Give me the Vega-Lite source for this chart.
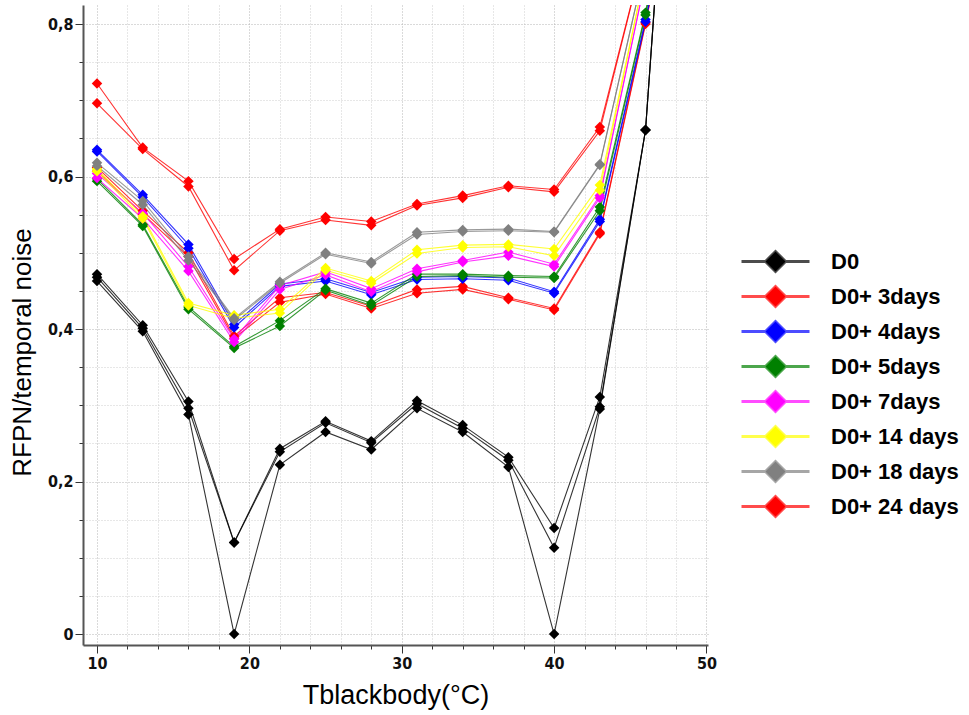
{
  "$schema": "https://vega.github.io/schema/vega-lite/v6.json",
  "autosize": "none",
  "width": 625,
  "height": 640,
  "padding": {"left": 83, "top": 5, "right": 261, "bottom": 70},
  "background": "white",
  "config": {
    "view": {"stroke": null},
    "axis": {
      "labelFont": "Liberation Sans Narrow, DejaVu Sans Condensed, Liberation Sans",
      "labelFontWeight": "bold",
      "labelFontSize": 16,
      "labelColor": "#111",
      "titleFont": "Liberation Sans",
      "titleFontWeight": "normal",
      "titleColor": "#000",
      "domainColor": "#555",
      "domainWidth": 2,
      "tickColor": "#333",
      "gridDash": [1, 2],
      "gridWidth": 1
    }
  },
  "data": {
    "values": [
      {"s":"D0","r":"a","t":10,"v":0.472},{"s":"D0","r":"a","t":13,"v":0.405},{"s":"D0","r":"a","t":16,"v":0.305},{"s":"D0","r":"a","t":19,"v":0.12},{"s":"D0","r":"a","t":22,"v":0.243},{"s":"D0","r":"a","t":25,"v":0.279},{"s":"D0","r":"a","t":28,"v":0.253},{"s":"D0","r":"a","t":31,"v":0.306},{"s":"D0","r":"a","t":34,"v":0.274},{"s":"D0","r":"a","t":37,"v":0.232},{"s":"D0","r":"a","t":40,"v":0.139},{"s":"D0","r":"a","t":43,"v":0.311},{"s":"D0","r":"a","t":46,"v":0.661},{"s":"D0","r":"a","t":49,"v":1.5},
      {"s":"D0","r":"b","t":10,"v":0.468},{"s":"D0","r":"b","t":13,"v":0.401},{"s":"D0","r":"b","t":16,"v":0.296},{"s":"D0","r":"b","t":19,"v":0.12},{"s":"D0","r":"b","t":22,"v":0.239},{"s":"D0","r":"b","t":25,"v":0.277},{"s":"D0","r":"b","t":28,"v":0.251},{"s":"D0","r":"b","t":31,"v":0.302},{"s":"D0","r":"b","t":34,"v":0.270},{"s":"D0","r":"b","t":37,"v":0.228},{"s":"D0","r":"b","t":40,"v":0.113},{"s":"D0","r":"b","t":43,"v":0.298},{"s":"D0","r":"b","t":46,"v":0.661},{"s":"D0","r":"b","t":49,"v":1.5},
      {"s":"D0","r":"c","t":10,"v":0.463},{"s":"D0","r":"c","t":13,"v":0.397},{"s":"D0","r":"c","t":16,"v":0.288},{"s":"D0","r":"c","t":19,"v":0.0},{"s":"D0","r":"c","t":22,"v":0.222},{"s":"D0","r":"c","t":25,"v":0.265},{"s":"D0","r":"c","t":28,"v":0.242},{"s":"D0","r":"c","t":31,"v":0.296},{"s":"D0","r":"c","t":34,"v":0.265},{"s":"D0","r":"c","t":37,"v":0.219},{"s":"D0","r":"c","t":40,"v":0.0},{"s":"D0","r":"c","t":43,"v":0.295},{"s":"D0","r":"c","t":46,"v":0.661},{"s":"D0","r":"c","t":49,"v":1.5},

      {"s":"D0+ 3days","r":"a","t":10,"v":0.612},{"s":"D0+ 3days","r":"a","t":13,"v":0.555},{"s":"D0+ 3days","r":"a","t":16,"v":0.500},{"s":"D0+ 3days","r":"a","t":19,"v":0.391},{"s":"D0+ 3days","r":"a","t":22,"v":0.441},{"s":"D0+ 3days","r":"a","t":25,"v":0.448},{"s":"D0+ 3days","r":"a","t":28,"v":0.430},{"s":"D0+ 3days","r":"a","t":31,"v":0.452},{"s":"D0+ 3days","r":"a","t":34,"v":0.456},{"s":"D0+ 3days","r":"a","t":37,"v":0.441},{"s":"D0+ 3days","r":"a","t":40,"v":0.427},{"s":"D0+ 3days","r":"a","t":43,"v":0.527},{"s":"D0+ 3days","r":"a","t":46,"v":0.802},{"s":"D0+ 3days","r":"a","t":49,"v":1.1},
      {"s":"D0+ 3days","r":"b","t":10,"v":0.607},{"s":"D0+ 3days","r":"b","t":13,"v":0.551},{"s":"D0+ 3days","r":"b","t":16,"v":0.495},{"s":"D0+ 3days","r":"b","t":19,"v":0.388},{"s":"D0+ 3days","r":"b","t":22,"v":0.435},{"s":"D0+ 3days","r":"b","t":25,"v":0.446},{"s":"D0+ 3days","r":"b","t":28,"v":0.427},{"s":"D0+ 3days","r":"b","t":31,"v":0.447},{"s":"D0+ 3days","r":"b","t":34,"v":0.452},{"s":"D0+ 3days","r":"b","t":37,"v":0.439},{"s":"D0+ 3days","r":"b","t":40,"v":0.425},{"s":"D0+ 3days","r":"b","t":43,"v":0.525},{"s":"D0+ 3days","r":"b","t":46,"v":0.800},{"s":"D0+ 3days","r":"b","t":49,"v":1.1},

      {"s":"D0+ 4days","r":"a","t":10,"v":0.635},{"s":"D0+ 4days","r":"a","t":13,"v":0.576},{"s":"D0+ 4days","r":"a","t":16,"v":0.511},{"s":"D0+ 4days","r":"a","t":19,"v":0.406},{"s":"D0+ 4days","r":"a","t":22,"v":0.459},{"s":"D0+ 4days","r":"a","t":25,"v":0.466},{"s":"D0+ 4days","r":"a","t":28,"v":0.448},{"s":"D0+ 4days","r":"a","t":31,"v":0.468},{"s":"D0+ 4days","r":"a","t":34,"v":0.469},{"s":"D0+ 4days","r":"a","t":37,"v":0.467},{"s":"D0+ 4days","r":"a","t":40,"v":0.449},{"s":"D0+ 4days","r":"a","t":43,"v":0.544},{"s":"D0+ 4days","r":"a","t":46,"v":0.806},{"s":"D0+ 4days","r":"a","t":49,"v":1.1},
      {"s":"D0+ 4days","r":"b","t":10,"v":0.633},{"s":"D0+ 4days","r":"b","t":13,"v":0.573},{"s":"D0+ 4days","r":"b","t":16,"v":0.506},{"s":"D0+ 4days","r":"b","t":19,"v":0.402},{"s":"D0+ 4days","r":"b","t":22,"v":0.456},{"s":"D0+ 4days","r":"b","t":25,"v":0.463},{"s":"D0+ 4days","r":"b","t":28,"v":0.445},{"s":"D0+ 4days","r":"b","t":31,"v":0.465},{"s":"D0+ 4days","r":"b","t":34,"v":0.466},{"s":"D0+ 4days","r":"b","t":37,"v":0.464},{"s":"D0+ 4days","r":"b","t":40,"v":0.447},{"s":"D0+ 4days","r":"b","t":43,"v":0.541},{"s":"D0+ 4days","r":"b","t":46,"v":0.803},{"s":"D0+ 4days","r":"b","t":49,"v":1.1},

      {"s":"D0+ 5days","r":"a","t":10,"v":0.597},{"s":"D0+ 5days","r":"a","t":13,"v":0.537},{"s":"D0+ 5days","r":"a","t":16,"v":0.429},{"s":"D0+ 5days","r":"a","t":19,"v":0.377},{"s":"D0+ 5days","r":"a","t":22,"v":0.411},{"s":"D0+ 5days","r":"a","t":25,"v":0.453},{"s":"D0+ 5days","r":"a","t":28,"v":0.434},{"s":"D0+ 5days","r":"a","t":31,"v":0.472},{"s":"D0+ 5days","r":"a","t":34,"v":0.472},{"s":"D0+ 5days","r":"a","t":37,"v":0.470},{"s":"D0+ 5days","r":"a","t":40,"v":0.469},{"s":"D0+ 5days","r":"a","t":43,"v":0.560},{"s":"D0+ 5days","r":"a","t":46,"v":0.815},{"s":"D0+ 5days","r":"a","t":49,"v":1.12},
      {"s":"D0+ 5days","r":"b","t":10,"v":0.594},{"s":"D0+ 5days","r":"b","t":13,"v":0.535},{"s":"D0+ 5days","r":"b","t":16,"v":0.426},{"s":"D0+ 5days","r":"b","t":19,"v":0.375},{"s":"D0+ 5days","r":"b","t":22,"v":0.404},{"s":"D0+ 5days","r":"b","t":25,"v":0.451},{"s":"D0+ 5days","r":"b","t":28,"v":0.431},{"s":"D0+ 5days","r":"b","t":31,"v":0.469},{"s":"D0+ 5days","r":"b","t":34,"v":0.470},{"s":"D0+ 5days","r":"b","t":37,"v":0.468},{"s":"D0+ 5days","r":"b","t":40,"v":0.467},{"s":"D0+ 5days","r":"b","t":43,"v":0.555},{"s":"D0+ 5days","r":"b","t":46,"v":0.812},{"s":"D0+ 5days","r":"b","t":49,"v":1.12},

      {"s":"D0+ 7days","r":"a","t":10,"v":0.604},{"s":"D0+ 7days","r":"a","t":13,"v":0.552},{"s":"D0+ 7days","r":"a","t":16,"v":0.482},{"s":"D0+ 7days","r":"a","t":19,"v":0.387},{"s":"D0+ 7days","r":"a","t":22,"v":0.457},{"s":"D0+ 7days","r":"a","t":25,"v":0.475},{"s":"D0+ 7days","r":"a","t":28,"v":0.453},{"s":"D0+ 7days","r":"a","t":31,"v":0.479},{"s":"D0+ 7days","r":"a","t":34,"v":0.490},{"s":"D0+ 7days","r":"a","t":37,"v":0.501},{"s":"D0+ 7days","r":"a","t":40,"v":0.485},{"s":"D0+ 7days","r":"a","t":43,"v":0.575},{"s":"D0+ 7days","r":"a","t":46,"v":0.86},{"s":"D0+ 7days","r":"a","t":49,"v":1.18},
      {"s":"D0+ 7days","r":"b","t":10,"v":0.598},{"s":"D0+ 7days","r":"b","t":13,"v":0.545},{"s":"D0+ 7days","r":"b","t":16,"v":0.476},{"s":"D0+ 7days","r":"b","t":19,"v":0.383},{"s":"D0+ 7days","r":"b","t":22,"v":0.452},{"s":"D0+ 7days","r":"b","t":25,"v":0.471},{"s":"D0+ 7days","r":"b","t":28,"v":0.449},{"s":"D0+ 7days","r":"b","t":31,"v":0.475},{"s":"D0+ 7days","r":"b","t":34,"v":0.488},{"s":"D0+ 7days","r":"b","t":37,"v":0.496},{"s":"D0+ 7days","r":"b","t":40,"v":0.482},{"s":"D0+ 7days","r":"b","t":43,"v":0.572},{"s":"D0+ 7days","r":"b","t":46,"v":0.86},{"s":"D0+ 7days","r":"b","t":49,"v":1.18},

      {"s":"D0+ 14 days","r":"a","t":10,"v":0.610},{"s":"D0+ 14 days","r":"a","t":13,"v":0.548},{"s":"D0+ 14 days","r":"a","t":16,"v":0.434},{"s":"D0+ 14 days","r":"a","t":19,"v":0.418},{"s":"D0+ 14 days","r":"a","t":22,"v":0.426},{"s":"D0+ 14 days","r":"a","t":25,"v":0.480},{"s":"D0+ 14 days","r":"a","t":28,"v":0.463},{"s":"D0+ 14 days","r":"a","t":31,"v":0.504},{"s":"D0+ 14 days","r":"a","t":34,"v":0.510},{"s":"D0+ 14 days","r":"a","t":37,"v":0.511},{"s":"D0+ 14 days","r":"a","t":40,"v":0.505},{"s":"D0+ 14 days","r":"a","t":43,"v":0.589},{"s":"D0+ 14 days","r":"a","t":46,"v":0.87},{"s":"D0+ 14 days","r":"a","t":49,"v":1.2},
      {"s":"D0+ 14 days","r":"b","t":10,"v":0.607},{"s":"D0+ 14 days","r":"b","t":13,"v":0.545},{"s":"D0+ 14 days","r":"b","t":16,"v":0.431},{"s":"D0+ 14 days","r":"b","t":19,"v":0.414},{"s":"D0+ 14 days","r":"b","t":22,"v":0.421},{"s":"D0+ 14 days","r":"b","t":25,"v":0.477},{"s":"D0+ 14 days","r":"b","t":28,"v":0.460},{"s":"D0+ 14 days","r":"b","t":31,"v":0.499},{"s":"D0+ 14 days","r":"b","t":34,"v":0.507},{"s":"D0+ 14 days","r":"b","t":37,"v":0.508},{"s":"D0+ 14 days","r":"b","t":40,"v":0.496},{"s":"D0+ 14 days","r":"b","t":43,"v":0.582},{"s":"D0+ 14 days","r":"b","t":46,"v":0.87},{"s":"D0+ 14 days","r":"b","t":49,"v":1.2},

      {"s":"D0+ 18 days","r":"a","t":10,"v":0.618},{"s":"D0+ 18 days","r":"a","t":13,"v":0.568},{"s":"D0+ 18 days","r":"a","t":16,"v":0.495},{"s":"D0+ 18 days","r":"a","t":19,"v":0.414},{"s":"D0+ 18 days","r":"a","t":22,"v":0.462},{"s":"D0+ 18 days","r":"a","t":25,"v":0.500},{"s":"D0+ 18 days","r":"a","t":28,"v":0.488},{"s":"D0+ 18 days","r":"a","t":31,"v":0.527},{"s":"D0+ 18 days","r":"a","t":34,"v":0.530},{"s":"D0+ 18 days","r":"a","t":37,"v":0.531},{"s":"D0+ 18 days","r":"a","t":40,"v":0.528},{"s":"D0+ 18 days","r":"a","t":43,"v":0.616},{"s":"D0+ 18 days","r":"a","t":46,"v":0.88},{"s":"D0+ 18 days","r":"a","t":49,"v":1.22},
      {"s":"D0+ 18 days","r":"b","t":10,"v":0.614},{"s":"D0+ 18 days","r":"b","t":13,"v":0.563},{"s":"D0+ 18 days","r":"b","t":16,"v":0.490},{"s":"D0+ 18 days","r":"b","t":19,"v":0.412},{"s":"D0+ 18 days","r":"b","t":22,"v":0.460},{"s":"D0+ 18 days","r":"b","t":25,"v":0.498},{"s":"D0+ 18 days","r":"b","t":28,"v":0.486},{"s":"D0+ 18 days","r":"b","t":31,"v":0.524},{"s":"D0+ 18 days","r":"b","t":34,"v":0.528},{"s":"D0+ 18 days","r":"b","t":37,"v":0.529},{"s":"D0+ 18 days","r":"b","t":40,"v":0.527},{"s":"D0+ 18 days","r":"b","t":43,"v":0.615},{"s":"D0+ 18 days","r":"b","t":46,"v":0.88},{"s":"D0+ 18 days","r":"b","t":49,"v":1.22},

      {"s":"D0+ 24 days","r":"a","t":10,"v":0.722},{"s":"D0+ 24 days","r":"a","t":13,"v":0.638},{"s":"D0+ 24 days","r":"a","t":16,"v":0.594},{"s":"D0+ 24 days","r":"a","t":19,"v":0.492},{"s":"D0+ 24 days","r":"a","t":22,"v":0.531},{"s":"D0+ 24 days","r":"a","t":25,"v":0.547},{"s":"D0+ 24 days","r":"a","t":28,"v":0.541},{"s":"D0+ 24 days","r":"a","t":31,"v":0.564},{"s":"D0+ 24 days","r":"a","t":34,"v":0.575},{"s":"D0+ 24 days","r":"a","t":37,"v":0.588},{"s":"D0+ 24 days","r":"a","t":40,"v":0.583},{"s":"D0+ 24 days","r":"a","t":43,"v":0.665},{"s":"D0+ 24 days","r":"a","t":46,"v":0.90},{"s":"D0+ 24 days","r":"a","t":49,"v":1.25},
      {"s":"D0+ 24 days","r":"b","t":10,"v":0.696},{"s":"D0+ 24 days","r":"b","t":13,"v":0.636},{"s":"D0+ 24 days","r":"b","t":16,"v":0.587},{"s":"D0+ 24 days","r":"b","t":19,"v":0.477},{"s":"D0+ 24 days","r":"b","t":22,"v":0.529},{"s":"D0+ 24 days","r":"b","t":25,"v":0.543},{"s":"D0+ 24 days","r":"b","t":28,"v":0.536},{"s":"D0+ 24 days","r":"b","t":31,"v":0.562},{"s":"D0+ 24 days","r":"b","t":34,"v":0.572},{"s":"D0+ 24 days","r":"b","t":37,"v":0.586},{"s":"D0+ 24 days","r":"b","t":40,"v":0.580},{"s":"D0+ 24 days","r":"b","t":43,"v":0.660},{"s":"D0+ 24 days","r":"b","t":46,"v":0.90},{"s":"D0+ 24 days","r":"b","t":49,"v":1.25}
    ]
  },
  "encoding": {
    "x": {
      "field": "t", "type": "quantitative",
      "scale": {"domain": [9.08, 50.1], "nice": false, "zero": false},
      "axis": {
        "title": "Tblackbody(°C)",
        "titleFontSize": 27,
        "values": [10,12,14,16,18,20,22,24,26,28,30,32,34,36,38,40,42,44,46,48,50],
        "labelExpr": "datum.value % 10 == 0 ? datum.value : ''",
        "tickSize": {"condition": {"test": "datum.value % 10 == 0", "value": 8}, "value": 4},
        "labelPadding": 2,
        "titlePadding": 11,
        "grid": true,
        "gridColor": {"condition": {"test": "datum.value % 10 == 0", "value": "#b5b5b5"}, "value": "#cfcfcf"}
      }
    },
    "y": {
      "field": "v", "type": "quantitative",
      "scale": {"domain": [-0.0144, 0.825], "nice": false, "zero": false},
      "axis": {
        "title": "RFPN/temporal noise",
        "titleFontSize": 26,
        "titleY": 347,
        "values": [0,0.05,0.1,0.15,0.2,0.25,0.3,0.35,0.4,0.45,0.5,0.55,0.6,0.65,0.7,0.75,0.8],
        "labelExpr": "abs(datum.value*5 - round(datum.value*5)) < 0.001 ? (datum.value == 0 ? '0' : replace(format(datum.value, '.1f'), '.', ',')) : ''",
        "tickSize": {"condition": {"test": "abs(datum.value*5 - round(datum.value*5)) < 0.001", "value": 8}, "value": 4},
        "labelPadding": 2,
        "titlePadding": 12,
        "grid": true,
        "gridColor": {"condition": {"test": "abs(datum.value*5 - round(datum.value*5)) < 0.001", "value": "#b5b5b5"}, "value": "#cfcfcf"}
      }
    },
    "color": {
      "field": "s", "type": "nominal",
      "scale": {
        "domain": ["D0","D0+ 3days","D0+ 4days","D0+ 5days","D0+ 7days","D0+ 14 days","D0+ 18 days","D0+ 24 days"],
        "range": ["#000000","#ff0000","#0000ff","#008000","#ff00ff","#ffff00","#808080","#ff0000"]
      },
      "legend": {
        "title": null,
        "orient": "none",
        "legendX": 681,
        "legendY": 245,
        "padding": 0,
        "symbolType": "M-3.4,0L-1,0L0,-1L1,0L3.4,0L1,0L0,1L-1,0Z",
        "symbolSize": 400,
        "symbolStrokeWidth": 3,
        "symbolOpacity": 1,
        "labelFont": "Liberation Sans",
        "labelFontWeight": "bold",
        "labelFontSize": 22,
        "labelColor": "#000",
        "labelOffset": 44,
        "labelLimit": 300,
        "rowPadding": 2,
        "encode": {
          "symbols": {
            "update": {
              "stroke": {"scale": "color", "field": "value"},
              "fill": {"scale": "color", "field": "value"},
              "strokeOpacity": {"value": 0.7}
            }
          }
        }
      }
    }
  },
  "layer": [
    {
      "mark": {"type": "line", "strokeWidth": 1.1, "opacity": 0.8, "clip": true},
      "encoding": {
        "detail": [{"field": "s"}, {"field": "r"}]
      }
    },
    {
      "mark": {"type": "point", "shape": "diamond", "filled": true, "size": 110, "opacity": 1, "clip": true},
      "encoding": {}
    }
  ]
}
